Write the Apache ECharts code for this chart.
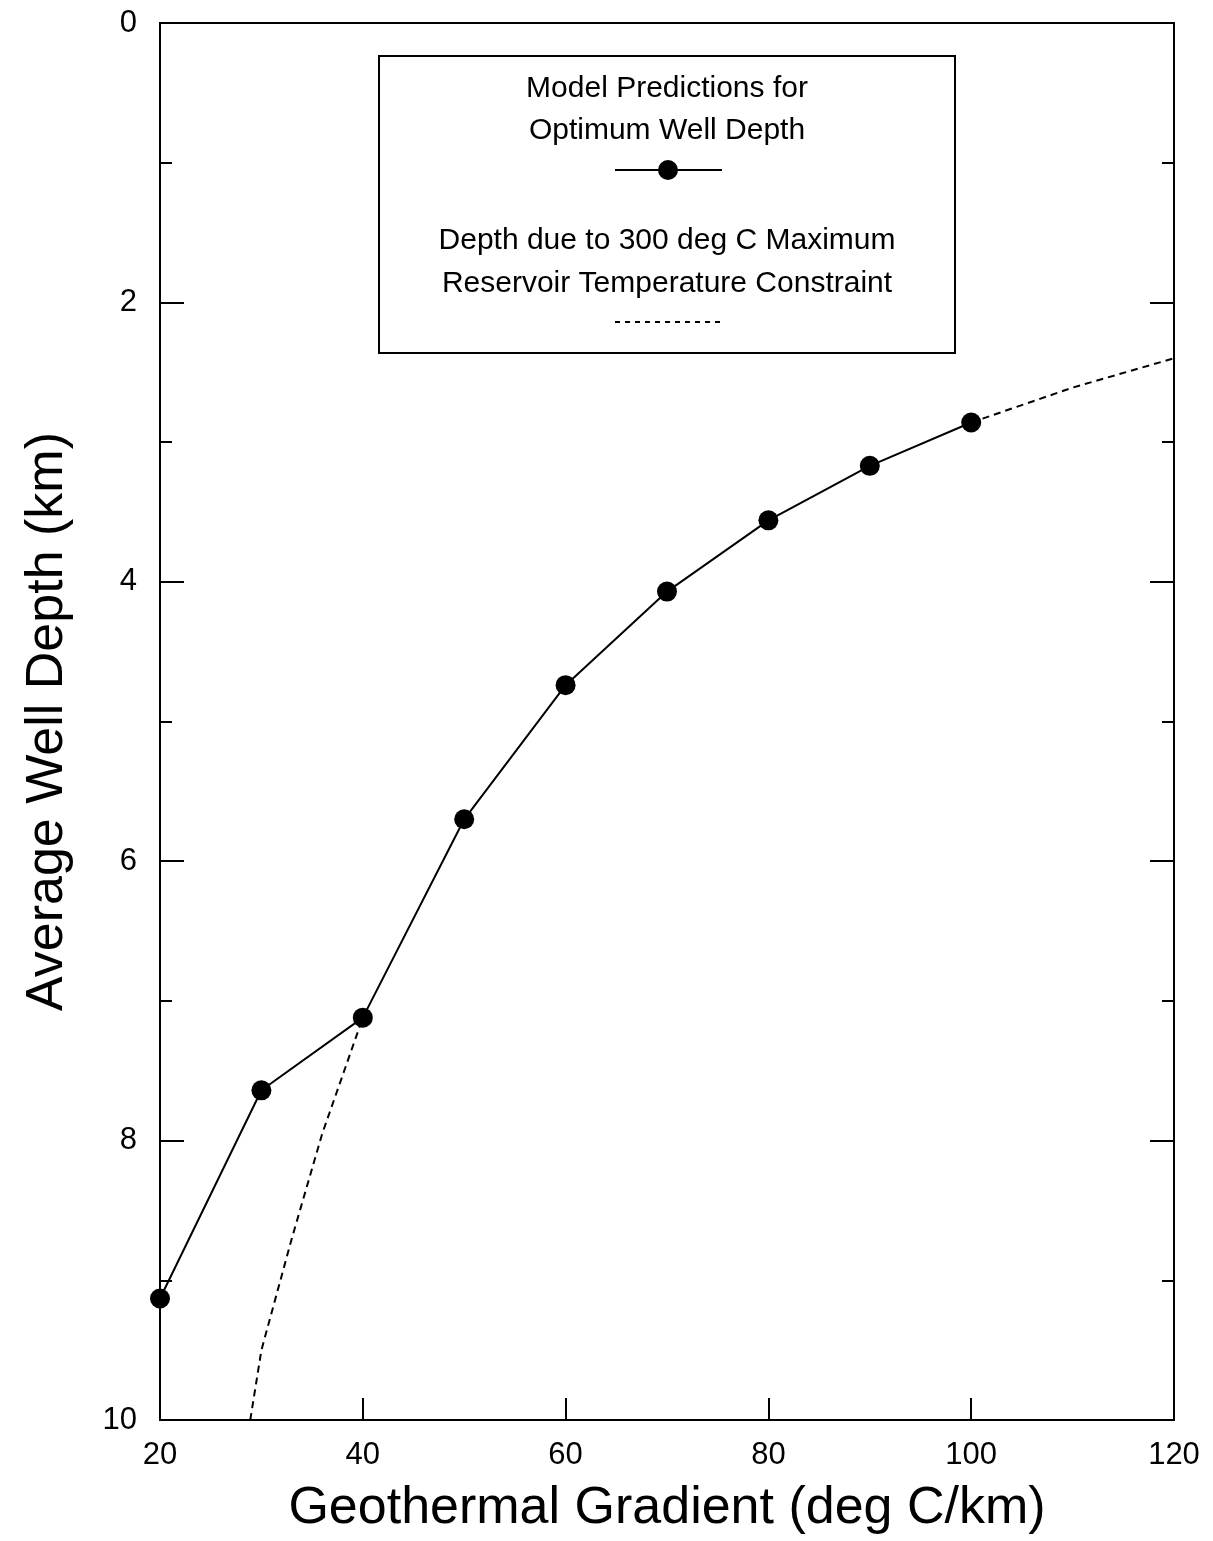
<!DOCTYPE html>
<html>
<head>
<meta charset="utf-8">
<script src="https://cdn.jsdelivr.net/npm/echarts@6/dist/echarts.min.js"></script>
<style>
  html, body { margin: 0; padding: 0; background: #fff; }
  #main { width: 1213px; height: 1541px; }
</style>
</head>
<body>
<div id="main"></div>
<script>
// gradient (deg C/km) vs optimum depth (km)
var gradients = [20, 30, 40, 50, 60, 70, 80, 90, 100];
var optDepth = [9.13, 7.64, 7.12, 5.70, 4.74, 4.07, 3.56, 3.17, 2.86];

// 300 deg C limit curve (two visible pieces)
var limitLowX = [28.9, 30, 33, 36, 40];
var limitLowY = [10, 9.5, 8.7, 7.95, 7.12];
var limitHighX = [100, 110, 120];
var limitHighY = [2.86, 2.61, 2.40];

var xTicks = [20, 40, 60, 80, 100, 120];
var yTicks = [0, 2, 4, 6, 8, 10];

var font = 'Liberation Sans, Arial, Helvetica, sans-serif';

function pairs(xs, ys) {
  return xs.map(function (x, i) { return [x, ys[i]]; });
}

var chart = echarts.init(document.getElementById('main'));

var legendCx = 667;
var legendFont = '30px ' + font;
var option = {
  backgroundColor: '#fff',
  animation: false,
  grid: {
    left: 160, right: 39, top: 23, bottom: 121,
    containLabel: false,
    outerBoundsMode: 'none',
    show: true, borderColor: '#000', borderWidth: 2
  },
  xAxis: {
    type: 'value',
    min: xTicks[0], max: xTicks[xTicks.length - 1], interval: 20,
    axisLine: { show: true, onZero: false, lineStyle: { color: '#000', width: 2 } },
    axisTick: { show: true, inside: true, length: 22, lineStyle: { color: '#000', width: 2 } },
    axisLabel: { color: '#000', fontSize: 31, fontFamily: font, margin: 20 },
    splitLine: { show: false },
    name: 'Geothermal Gradient (deg C/km)',
    nameLocation: 'middle',
    nameGap: 63,
    nameTextStyle: { color: '#000', fontSize: 52, fontFamily: font }
  },
  yAxis: [{
    type: 'value',
    inverse: true,
    min: yTicks[0], max: yTicks[yTicks.length - 1], interval: 2,
    axisLine: { show: true, onZero: false, lineStyle: { color: '#000', width: 2 } },
    axisTick: { show: true, inside: true, length: 24, lineStyle: { color: '#000', width: 2 } },
    minorTick: { show: true, splitNumber: 2, length: 12, lineStyle: { color: '#000', width: 2 } },
    axisLabel: { color: '#000', fontSize: 31, fontFamily: font, margin: 23 },
    splitLine: { show: false },
    name: 'Average Well Depth (km)',
    nameLocation: 'middle',
    nameGap: 86,
    nameTextStyle: { color: '#000', fontSize: 52, fontFamily: font }
  }, {
    type: 'value',
    position: 'right',
    inverse: true,
    min: yTicks[0], max: yTicks[yTicks.length - 1], interval: 2,
    axisLine: { show: true, onZero: false, lineStyle: { color: '#000', width: 2 } },
    axisTick: { show: true, inside: true, length: 24, lineStyle: { color: '#000', width: 2 } },
    minorTick: { show: true, splitNumber: 2, length: 12, lineStyle: { color: '#000', width: 2 } },
    axisLabel: { show: false },
    splitLine: { show: false }
  }],
  series: [{
    type: 'line',
    data: pairs(limitLowX, limitLowY),
    showSymbol: false,
    lineStyle: { color: '#000', width: 2, type: [7, 5] },
    z: 2
  }, {
    type: 'line',
    data: pairs(limitHighX, limitHighY),
    showSymbol: false,
    lineStyle: { color: '#000', width: 2, type: [7, 5] },
    z: 2
  }, {
    type: 'line',
    data: pairs(gradients, optDepth),
    symbol: 'circle',
    symbolSize: 20,
    itemStyle: { color: '#000' },
    lineStyle: { color: '#000', width: 2 },
    z: 3
  }],
  graphic: [
    { type: 'rect', shape: { x: 379, y: 56, width: 576, height: 297 },
      style: { fill: '#fff', stroke: '#000', lineWidth: 2 }, z: 10 },
    { type: 'text', x: legendCx, y: 89, z: 11,
      style: { text: 'Model Predictions for', fill: '#000', font: legendFont, textAlign: 'center', textVerticalAlign: 'middle' } },
    { type: 'text', x: legendCx, y: 131, z: 11,
      style: { text: 'Optimum Well Depth', fill: '#000', font: legendFont, textAlign: 'center', textVerticalAlign: 'middle' } },
    { type: 'line', z: 11, shape: { x1: 615, y1: 170, x2: 722, y2: 170 },
      style: { stroke: '#000', lineWidth: 2 } },
    { type: 'circle', z: 12, shape: { cx: 668, cy: 170, r: 10 }, style: { fill: '#000' } },
    { type: 'text', x: legendCx, y: 241, z: 11,
      style: { text: 'Depth due to 300 deg C Maximum', fill: '#000', font: legendFont, textAlign: 'center', textVerticalAlign: 'middle' } },
    { type: 'text', x: legendCx, y: 284, z: 11,
      style: { text: 'Reservoir Temperature Constraint', fill: '#000', font: legendFont, textAlign: 'center', textVerticalAlign: 'middle' } },
    { type: 'line', z: 11, shape: { x1: 615, y1: 322, x2: 722, y2: 322 },
      style: { stroke: '#000', lineWidth: 2, lineDash: [5, 5] } }
  ]
};

chart.setOption(option);
</script>
</body>
</html>
